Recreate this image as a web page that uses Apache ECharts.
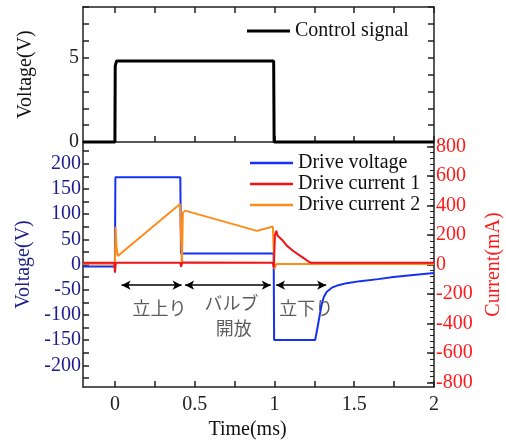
<!DOCTYPE html>
<html>
<head>
<meta charset="utf-8">
<script src="https://cdn.jsdelivr.net/npm/echarts@6/dist/echarts.min.js"></script>
<style>html,body{margin:0;padding:0;background:#fff}#c{width:506px;height:441px}</style>
</head>
<body>
<div id="c"></div>
<script>
// ---- data ----
const timeTicks = [0, 0.25, 0.5, 0.75, 1, 1.25, 1.5, 1.75, 2];
const timeLabels = [0, 0.5, 1, 1.5, 2];
const ctrlTicks = [0, 1, 2, 3, 4, 5, 6, 7, 8];
const ctrlLabels = [0, 5];
const voltTicks = [-225,-200,-175,-150,-125,-100,-75,-50,-25,0,25,50,75,100,125,150,175,200,225];
const voltLabels = [-200,-150,-100,-50,0,50,100,150,200];
const currLabels = [-800,-600,-400,-200,0,200,400,600,800];
const currMinorTicks = [-800,-760,-720,-680,-640,-600,-560,-520,-480,-440,-400,-360,-320,-280,-240,-200,-160,-120,-80,-40,0,40,80,120,160,200,240,280,320,360,400,440,480,520,560,600,640,680,720,760,800];

const controlSignal = [[-0.2,0],[0,0],[0.002,4.5],[0.01,4.8],[0.995,4.8],[0.998,0],[2,0]];

const driveVoltage = [[-0.2,-4],[0,-4],[0.003,173],[0.41,173],[0.414,22],[0.995,22],[0.998,-150],
  [1.255,-150],[1.27,-125],[1.285,-98],[1.297,-78],[1.31,-64],[1.328,-54],[1.36,-46],[1.4,-41],
  [1.453,-37],[1.537,-33],[1.65,-29],[1.746,-25],[1.87,-21],[2.0,-17]];

const driveCurrent1 = [[-0.2,12],[-0.004,12],[0,-55],[0.006,12],[0.41,12],[0.415,-15],[0.422,14],
  [0.99,12],[0.996,-20],[1.003,200],[1.012,228],[1.02,195],[1.05,165],[1.077,128],[1.12,90],
  [1.16,60],[1.19,38],[1.213,20],[1.23,12],[2.0,12]];

const driveCurrent2 = [[-0.2,5],[-0.003,5],[0,-30],[0.004,255],[0.01,120],[0.018,58],[0.408,410],
  [0.414,418],[0.42,0],[0.426,350],[0.44,365],[0.45,355],[0.89,228],[0.975,252],[0.99,258],
  [0.995,250],[1.0,-30],[1.012,3],[2.0,3]];

const arrows = [[0.042,0.418],[0.44,0.977],[1.01,1.324]];
const arrowLevel = -41;
const notes = [["立上り",0.28,-86],["バルブ",0.73,-76],["開放",0.745,-126],["立下り",1.2,-86]];

// ---- chart ----
const serif = 'Liberation Serif';
const axisLineStyle = {color:'#222', width:1.5};
const lineIcon = 'path://M0,0L43,0L43,2.5L0,2.5Z';
const chart = echarts.init(document.getElementById('c'), null, {renderer:'canvas'});

function xAx(grid, pos, labels){
  return {type:'value', gridIndex:grid, position:pos, min:-0.2, max:2,
    axisLine:{show:true, onZero:false, lineStyle:axisLineStyle},
    axisTick:{show:true, inside:true, length:6, customValues:timeTicks, lineStyle:axisLineStyle},
    axisLabel:labels ? {show:true, customValues:timeLabels, margin:8, fontFamily:serif, fontSize:20, color:'#222',
       formatter:v=>String(v)} : {show:false},
    splitLine:{show:false}};
}
function yLine(){ return {show:true, onZero:false, lineStyle:axisLineStyle}; }

chart.setOption({
  animation:false,
  grid:[
    {left:83, right:72, top:7, height:135, outerBoundsMode:'none', containLabel:false},
    {left:83, right:72, top:142, height:245, outerBoundsMode:'none', containLabel:false}
  ],
  legend:[
    {data:['Control signal'], left:247, top:21, padding:0, itemWidth:43, itemHeight:14, icon:'path://M0,0L43,0L43,3L0,3Z',
     textStyle:{fontFamily:serif, fontSize:20, color:'#111', lineHeight:20}},
    {data:['Drive voltage','Drive current 1','Drive current 2'], orient:'vertical', left:250, top:153, padding:0,
     itemWidth:43, itemHeight:14, itemGap:1, icon:lineIcon,
     textStyle:{fontFamily:serif, fontSize:20, color:'#111', lineHeight:20}}
  ],
  xAxis:[
    xAx(0,'bottom',false),
    xAx(0,'top',false),
    Object.assign(xAx(1,'bottom',true), {name:'Time(ms)', nameLocation:'middle', nameGap:31,
      nameTextStyle:{fontFamily:serif, fontSize:20, color:'#111', padding:[0,22,0,0]}})
  ],
  yAxis:[
    {type:'value', gridIndex:0, position:'left', min:0, max:8,
     name:'Voltage(V)', nameLocation:'middle', nameGap:47,
     nameTextStyle:{fontFamily:serif, fontSize:20, color:'#111'},
     axisLine:yLine(),
     axisTick:{show:true, inside:true, length:6, customValues:ctrlTicks, lineStyle:axisLineStyle},
     axisLabel:{customValues:ctrlLabels, margin:4, fontFamily:serif, fontSize:20, color:'#222'},
     splitLine:{show:false}},
    {type:'value', gridIndex:0, position:'right', min:0, max:8,
     axisLine:yLine(),
     axisTick:{show:true, inside:true, length:6, customValues:ctrlTicks, lineStyle:axisLineStyle},
     axisLabel:{show:false}, splitLine:{show:false}},
    {type:'value', gridIndex:1, position:'left', min:-243, max:243,
     name:'Voltage(V)', nameLocation:'middle', nameGap:47,
     nameTextStyle:{fontFamily:serif, fontSize:20, color:'#1c1c8c'},
     axisLine:yLine(),
     axisTick:{show:true, inside:true, length:6, customValues:voltTicks, lineStyle:axisLineStyle},
     axisLabel:{customValues:voltLabels, margin:2, fontFamily:serif, fontSize:20, color:'#1c1c8c'},
     splitLine:{show:false}},
    {type:'value', gridIndex:1, position:'right', min:-830, max:830,
     name:'Current(mA)', nameLocation:'middle', nameGap:47, nameRotate:90,
     nameTextStyle:{fontFamily:serif, fontSize:20, color:'#ff1a1a'},
     axisLine:yLine(),
     axisTick:{show:true, inside:true, length:7, customValues:currLabels, lineStyle:axisLineStyle},
     axisLabel:{customValues:currLabels, margin:2, fontFamily:serif, fontSize:20, color:'#ff1a1a'},
     splitLine:{show:false}},
    {type:'value', gridIndex:1, position:'right', min:-830, max:830,
     axisLine:{show:false, onZero:false},
     axisTick:{show:true, inside:true, length:4, customValues:currMinorTicks, lineStyle:{color:'#222', width:1}},
     axisLabel:{show:false}, splitLine:{show:false}}
  ],
  series:[
    {name:'Control signal', type:'line', xAxisIndex:0, yAxisIndex:0, data:controlSignal,
     symbol:'none', clip:false, lineStyle:{color:'#000', width:3}, itemStyle:{color:'#000'}},
    {name:'Drive voltage', type:'line', xAxisIndex:2, yAxisIndex:2, data:driveVoltage,
     symbol:'none', lineStyle:{color:'#1530f5', width:2}, itemStyle:{color:'#1530f5'},
     markLine:{silent:true, symbol:['arrow','arrow'], symbolSize:[7,9], label:{show:false},
       lineStyle:{color:'#000', width:1.5, type:'solid'},
       data:arrows.map(a=>[{coord:[a[0],arrowLevel]},{coord:[a[1],arrowLevel]}])}},
    {name:'Drive current 2', type:'line', xAxisIndex:2, yAxisIndex:3, data:driveCurrent2,
     symbol:'none', lineStyle:{color:'#ff8c1a', width:2}, itemStyle:{color:'#ff8c1a'}},
    {name:'Drive current 1', type:'line', xAxisIndex:2, yAxisIndex:3, data:driveCurrent1,
     symbol:'none', lineStyle:{color:'#f01414', width:2}, itemStyle:{color:'#f01414'}},
    {name:'notes', type:'scatter', xAxisIndex:2, yAxisIndex:2, symbolSize:0, silent:true,
     data:notes.map(n=>({value:[n[1],n[2]], label:{show:true, position:'inside', formatter:n[0],
       fontFamily:'Noto Sans CJK JP', fontSize:18, color:'#333'}}))}
  ]
});
</script>
</body>
</html>
